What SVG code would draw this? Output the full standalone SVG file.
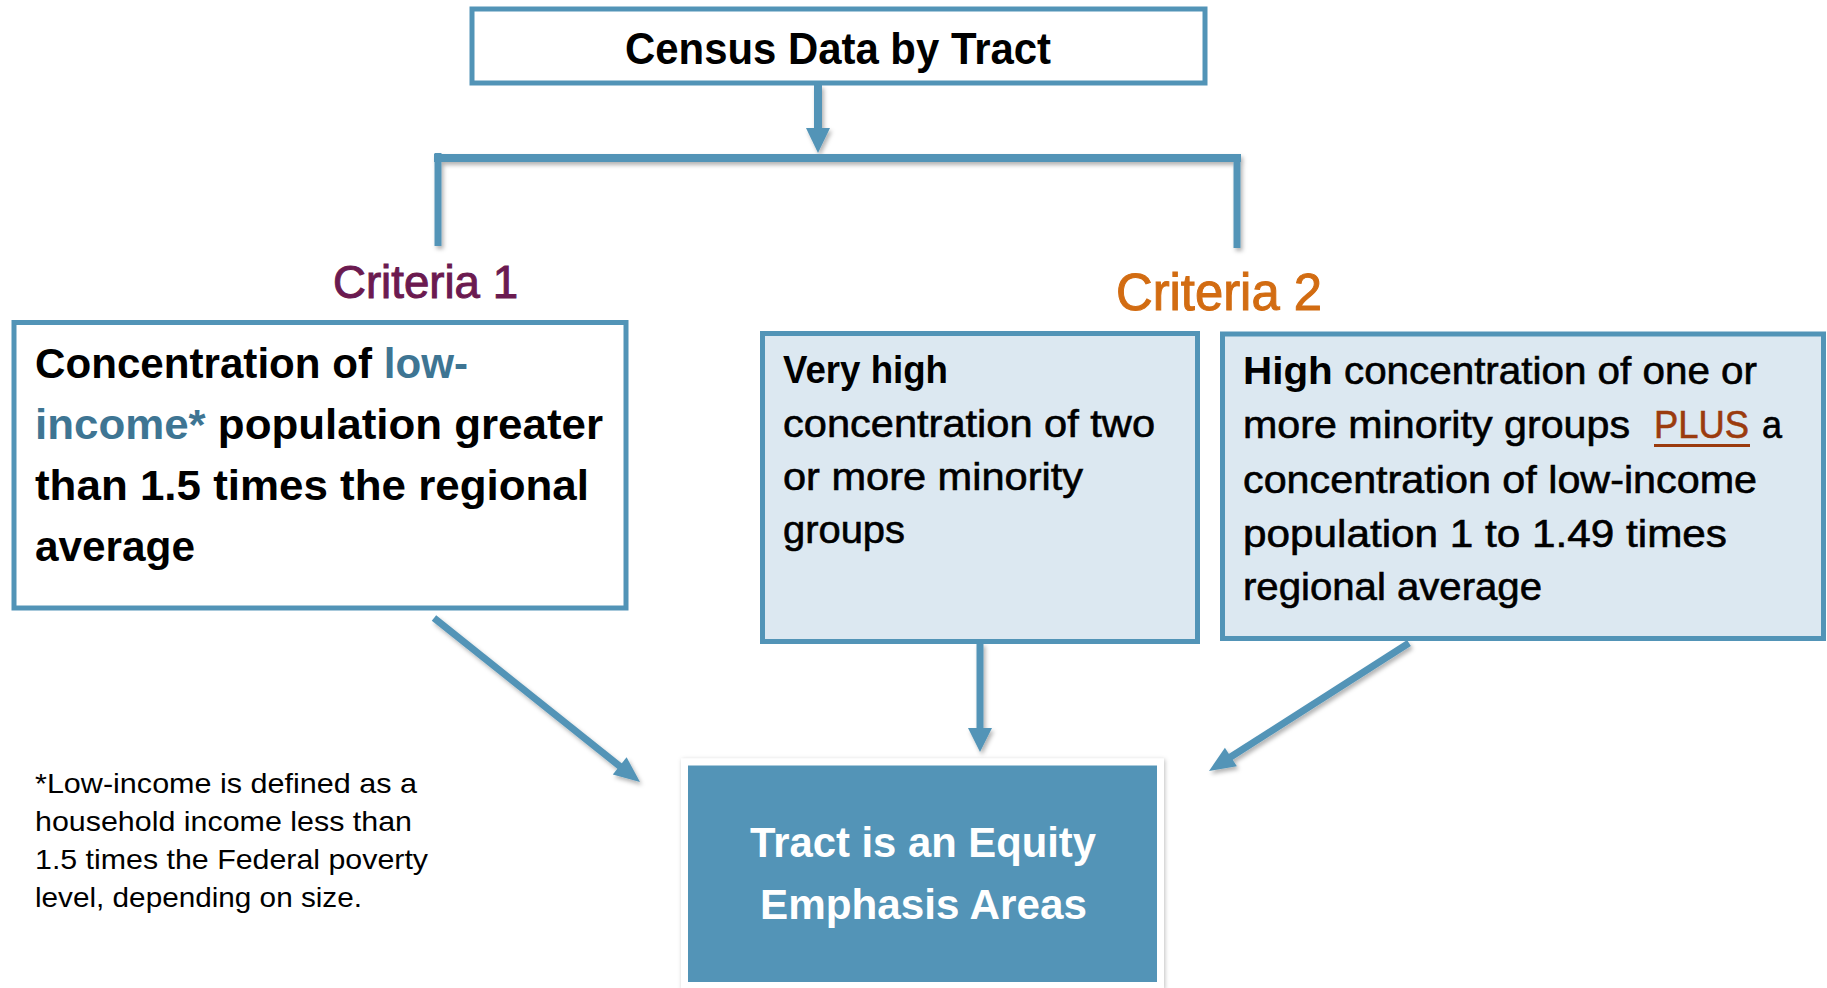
<svg xmlns="http://www.w3.org/2000/svg" width="1827" height="988" viewBox="0 0 1827 988">
<defs>
<style>
.t{font-family:"Liberation Sans",Arial,sans-serif;fill:#000}
.b{font-weight:bold}
.m{stroke:#000;stroke-width:0.6}
.box{stroke:#5294B7;stroke-width:5}
.conn{stroke:#5294B7;fill:none}
.head{fill:#5294B7}
</style>
<filter id="sh" x="-20%" y="-20%" width="140%" height="140%">
<feDropShadow dx="2" dy="3" stdDeviation="2" flood-color="#000" flood-opacity="0.3"/>
</filter>
<filter id="sh2" x="-5%" y="-5%" width="110%" height="110%">
<feDropShadow dx="1" dy="1" stdDeviation="2" flood-color="#000" flood-opacity="0.25"/>
</filter>
</defs>
<rect width="1827" height="988" fill="#fff"/>

<g id="connectors" filter="url(#sh)">
<line class="conn" x1="818" y1="85" x2="818" y2="130" stroke-width="8"/>
<polygon class="head" points="806,128 830,128 818,153"/>
<line class="conn" x1="434" y1="158" x2="1241" y2="158" stroke-width="8"/>
<line class="conn" x1="438" y1="153" x2="438" y2="246" stroke-width="7"/>
<line class="conn" x1="1237" y1="155" x2="1237" y2="248" stroke-width="7"/>
<line class="conn" x1="434" y1="618" x2="622" y2="768" stroke-width="7"/>
<polygon class="head" points="612.8,774.5 626.6,757.3 640,782"/>
<line class="conn" x1="980" y1="643" x2="980" y2="730" stroke-width="7"/>
<polygon class="head" points="968,728 992,728 980,752"/>
<line class="conn" x1="1409" y1="643" x2="1229" y2="758" stroke-width="7"/>
<polygon class="head" points="1224.9,747.7 1236.9,766.3 1209,771"/>
</g>

<g id="census">
<rect class="box" x="472" y="9" width="733" height="74" fill="#fff" stroke-width="4"/>
<text class="t b" x="625" y="64" font-size="44" textLength="426" lengthAdjust="spacingAndGlyphs">Census Data by Tract</text>
</g>

<g id="criteria1-label">
<text class="t" x="333" y="298" font-size="46" style="fill:#6B1A50;stroke:#6B1A50;stroke-width:1" textLength="185" lengthAdjust="spacingAndGlyphs">Criteria 1</text>
</g>

<g id="criteria2-label">
<text class="t" x="1116" y="310" font-size="51" style="fill:#D26C12;stroke:#D26C12;stroke-width:1" textLength="206" lengthAdjust="spacingAndGlyphs">Criteria 2</text>
</g>

<g id="criteria1-box">
<rect class="box" x="14" y="322.5" width="612" height="285.5" fill="#fff"/>
<text class="t b" x="35" y="377.5" font-size="43" textLength="433" lengthAdjust="spacingAndGlyphs">Concentration of <tspan style="fill:#3E7593">low-</tspan></text>
<text class="t b" x="35" y="438.5" font-size="43" textLength="568" lengthAdjust="spacingAndGlyphs"><tspan style="fill:#3E7593">income*</tspan> population greater</text>
<text class="t b" x="35" y="499.5" font-size="43" textLength="554" lengthAdjust="spacingAndGlyphs">than 1.5 times the regional</text>
<text class="t b" x="35" y="560.5" font-size="43" textLength="160" lengthAdjust="spacingAndGlyphs">average</text>
</g>

<g id="criteria2-box-a">
<rect class="box" x="762.5" y="333.5" width="435" height="308" fill="#DCE8F1"/>
<text class="t b" x="783" y="383" font-size="38" textLength="165" lengthAdjust="spacingAndGlyphs">Very high</text>
<text class="t m" x="783" y="437" font-size="38" textLength="372" lengthAdjust="spacingAndGlyphs">concentration of two</text>
<text class="t m" x="783" y="490" font-size="38" textLength="300" lengthAdjust="spacingAndGlyphs">or more minority</text>
<text class="t m" x="783" y="543" font-size="38" textLength="122" lengthAdjust="spacingAndGlyphs">groups</text>
</g>

<g id="criteria2-box-b">
<rect class="box" x="1222.5" y="334" width="601" height="304.5" fill="#DCE8F1"/>
<text class="t m" x="1243" y="384" font-size="38" textLength="514" lengthAdjust="spacingAndGlyphs"><tspan class="b" style="stroke-width:0">High</tspan> concentration of one or</text>
<text class="t m" x="1243" y="438" font-size="38" textLength="387" lengthAdjust="spacingAndGlyphs">more minority groups</text>
<text class="t" x="1654" y="438" font-size="38" style="fill:#9B3B0E;stroke:#9B3B0E;stroke-width:0.6" textLength="95" lengthAdjust="spacingAndGlyphs">PLUS</text>
<line x1="1654" y1="445.5" x2="1750" y2="445.5" stroke="#9B3B0E" stroke-width="3"/>
<text class="t m" x="1762" y="438" font-size="38" textLength="20" lengthAdjust="spacingAndGlyphs">a</text>
<text class="t m" x="1243" y="493" font-size="38" textLength="514" lengthAdjust="spacingAndGlyphs">concentration of low-income</text>
<text class="t m" x="1243" y="547" font-size="38" textLength="484" lengthAdjust="spacingAndGlyphs">population 1 to 1.49 times</text>
<text class="t m" x="1243" y="600" font-size="38" textLength="299" lengthAdjust="spacingAndGlyphs">regional average</text>
</g>

<g id="footnote">
<text class="t" x="35" y="793" font-size="28" textLength="382" lengthAdjust="spacingAndGlyphs">*Low-income is defined as a</text>
<text class="t" x="35" y="831" font-size="28" textLength="377" lengthAdjust="spacingAndGlyphs">household income less than</text>
<text class="t" x="35" y="869" font-size="28" textLength="393" lengthAdjust="spacingAndGlyphs">1.5 times the Federal poverty</text>
<text class="t" x="35" y="907" font-size="28" textLength="327" lengthAdjust="spacingAndGlyphs">level, depending on size.</text>
</g>

<g id="result">
<rect x="684.5" y="762" width="476" height="223.5" fill="#5294B7" stroke="#fff" stroke-width="7" filter="url(#sh2)"/>
<text class="t b" x="750" y="857" font-size="43" style="fill:#fff" textLength="346" lengthAdjust="spacingAndGlyphs">Tract is an Equity</text>
<text class="t b" x="760" y="919" font-size="43" style="fill:#fff" textLength="327" lengthAdjust="spacingAndGlyphs">Emphasis Areas</text>
</g>
</svg>
